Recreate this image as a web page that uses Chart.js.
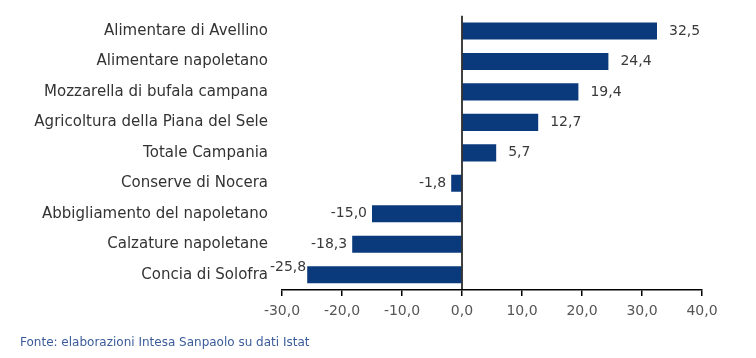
<!DOCTYPE html>
<html>
<head>
<meta charset="utf-8">
<script src="https://cdn.jsdelivr.net/npm/chart.js@4/dist/chart.umd.min.js"></script>
<style>
html,body{margin:0;padding:0;background:#fff;}
#wrap{position:relative;width:756px;height:358px;}
</style>
</head>
<body>
<div id="wrap"><canvas id="c" width="756" height="358"></canvas></div>
<script>
const categories = [
  "Alimentare di Avellino",
  "Alimentare napoletano",
  "Mozzarella di bufala campana",
  "Agricoltura della Piana del Sele",
  "Totale Campania",
  "Conserve di Nocera",
  "Abbigliamento del napoletano",
  "Calzature napoletane",
  "Concia di Solofra"
];
const values = [32.5, 24.4, 19.4, 12.7, 5.7, -1.8, -15.0, -18.3, -25.8];
const xTicks = [-30, -20, -10, 0, 10, 20, 30, 40];
const sourceNote = "Fonte: elaborazioni Intesa Sanpaolo su dati Istat";

const FONT = "'DejaVu Sans', sans-serif";
const fmt = v => v.toFixed(1).replace('.', ',');

const zeroLine = {
  id: 'zeroLine',
  afterDatasetsDraw(chart) {
    const x = chart.scales.x.getPixelForValue(0);
    const ctx = chart.ctx, a = chart.chartArea;
    ctx.save();
    ctx.strokeStyle = '#000';
    ctx.lineWidth = 1.5;
    ctx.beginPath();
    ctx.moveTo(x, a.top);
    ctx.lineTo(x, a.bottom);
    ctx.stroke();
    ctx.restore();
  }
};

const barLabels = {
  id: 'barLabels',
  afterDatasetsDraw(chart) {
    const ctx = chart.ctx;
    const meta = chart.getDatasetMeta(0);
    const a = chart.chartArea;
    ctx.save();
    ctx.font = "14px " + FONT;
    ctx.fillStyle = '#3a3a3a';
    ctx.textBaseline = 'middle';
    meta.data.forEach((bar, i) => {
      const v = values[i];
      const t = fmt(v);
      if (v >= 0) {
        ctx.textAlign = 'left';
        ctx.fillText(t, bar.x + 12, bar.y);
      } else {
        const w = ctx.measureText(t).width;
        ctx.textAlign = 'right';
        if (bar.x - 5 - w < a.left - 10) {
          ctx.fillText(t, bar.x - 1, bar.y - 7);
        } else {
          ctx.fillText(t, bar.x - 5, bar.y);
        }
      }
    });
    ctx.restore();
  }
};

new Chart(document.getElementById('c'), {
  type: 'bar',
  data: {
    labels: categories,
    datasets: [{
      data: values,
      backgroundColor: '#0b3a7c',
      borderWidth: 0,
      barPercentage: 0.7,
      categoryPercentage: 0.8
    }]
  },
  options: {
    indexAxis: 'y',
    responsive: false,
    animation: false,
    devicePixelRatio: 1,
    layout: { padding: { left: 20, right: 54, top: 15.7, bottom: 0 } },
    plugins: {
      legend: { display: false },
      tooltip: { enabled: false },
      subtitle: {
        display: true,
        text: sourceNote,
        position: 'bottom',
        align: 'start',
        color: '#3b5c9a',
        font: { family: FONT, size: 12 },
        padding: { top: 0, bottom: 8 }
      }
    },
    scales: {
      x: {
        min: -30, max: 40,
        afterBuildTicks(scale) { scale.ticks = xTicks.map(v => ({ value: v })); },
        afterFit(scale) { scale.height = 45.6; },
        border: { display: true, color: '#000', width: 1.5 },
        grid: { display: true, drawOnChartArea: false, drawTicks: true, tickLength: 6, color: '#000', lineWidth: 1.5 },
        ticks: {
          padding: 7,
          color: '#555',
          font: { family: FONT, size: 14 },
          callback: v => fmt(v)
        }
      },
      y: {
        afterFit(scale) { scale.width = 262; scale.paddingTop = 0; scale.paddingBottom = 0; },
        border: { display: false },
        grid: { display: false, drawTicks: false },
        ticks: {
          padding: 14,
          color: '#333',
          font: { family: FONT, size: 15 }
        }
      }
    }
  },
  plugins: [zeroLine, barLabels]
});
</script>
</body>
</html>
